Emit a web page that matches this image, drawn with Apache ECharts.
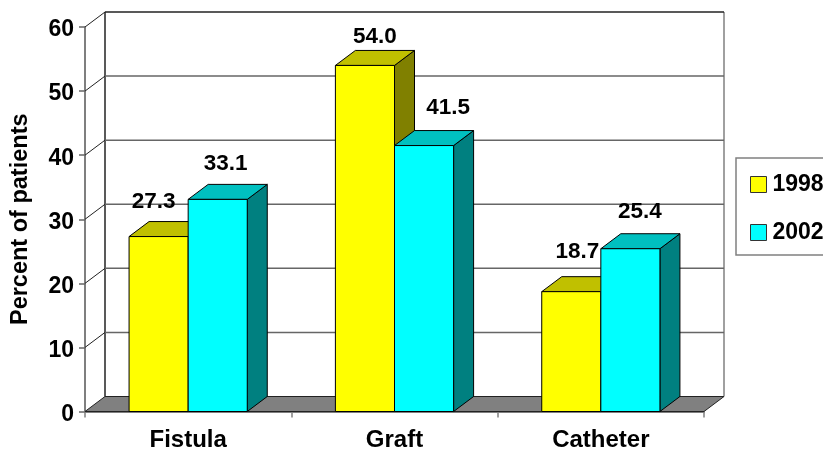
<!DOCTYPE html>
<html>
<head>
<meta charset="utf-8">
<style>html,body{margin:0;padding:0;background:#fff;overflow:hidden}#chart{width:823px;height:449px}</style>
<script src="https://cdn.jsdelivr.net/npm/echarts@6/dist/echarts.min.js"></script>
</head>
<body>
<div id="chart"></div>
<script>
// Vascular access type by year
const categories = ['Fistula', 'Graft', 'Catheter'];
const values1998 = [27.3, 54.0, 18.7];
const values2002 = [33.1, 41.5, 25.4];
const yTicks = [0, 10, 20, 30, 40, 50, 60];

// Pseudo-3D extrusion of the bars and the walls, in pixels
const DX = 20, DY = 15;
const FAMILY = '"Liberation Sans", Arial, sans-serif';
const FONT = 'bold 22.5px ' + FAMILY;
const BAR_RATIO = 59 / 206;

// Hand placement of the value labels relative to the bar's front top centre
const nudge1998 = [[-5, -35], [10, -29], [6, -40]];
const nudge2002 = [[8, -36], [24, -38], [9.5, -37]];

function poly(points, fill, stroke, width) {
  return {
    type: 'polygon',
    shape: { points },
    style: { fill, stroke: stroke || '#000', lineWidth: width === undefined ? 1 : width }
  };
}
function line(x1, y1, x2, y2, stroke, width) {
  return {
    type: 'line',
    shape: { x1, y1, x2, y2 },
    style: { stroke, lineWidth: width || 1, fill: null }
  };
}

// Back wall, side wall and floor, one item per axis tick
function renderWall(params, api) {
  const cs = params.coordSys;
  const tick = api.value(1);
  const y = api.coord([0, tick])[1];
  const left = cs.x, right = cs.x + cs.width;
  const children = [];
  if (tick === 0) {
    const topY = api.coord([0, 60])[1];
    children.push(line(left + DX, topY - DY, left + DX, y - DY, '#222', 1.5));
    children.push(line(right + DX, topY - DY, right + DX, y - DY, '#808080', 1.5));
    children.push(poly([[left, y], [left + DX, y - DY], [right + DX, y - DY], [right, y]], '#808080', '#222', 1));
  } else {
    const back = tick === 60 ? '#222' : '#666';
    children.push(line(left, y, left + DX, y - DY, '#222', 1));
    children.push(line(left + DX, y - DY, right + DX, y - DY, back, 1.5));
  }
  return { type: 'group', children };
}

// One extruded bar with its value label
function barRenderer(side, front, top, dark, nudges) {
  return function (params, api) {
    const i = api.value(0);
    const v = api.value(1);
    const base = api.coord([i, 0]);
    const peak = api.coord([i, v]);
    const w = api.size([1, 0])[0] * BAR_RATIO;
    const x0 = side < 0 ? base[0] - w : base[0];
    const x1 = x0 + w;
    const y0 = base[1], y1 = peak[1];
    const n = nudges[i];
    return {
      type: 'group',
      children: [
        poly([[x1, y0], [x1 + DX, y0 - DY], [x1 + DX, y1 - DY], [x1, y1]], dark),
        poly([[x0, y1], [x0 + DX, y1 - DY], [x1 + DX, y1 - DY], [x1, y1]], top),
        poly([[x0, y0], [x0, y1], [x1, y1], [x1, y0]], front),
        {
          type: 'text',
          style: {
            text: v.toFixed(1),
            x: (x0 + x1) / 2 + n[0],
            y: y1 + n[1],
            align: 'center',
            verticalAlign: 'middle',
            font: FONT,
            fill: '#000'
          }
        }
      ]
    };
  };
}

const chart = echarts.init(document.getElementById('chart'), null, { renderer: 'canvas' });
chart.setOption({
  animation: false,
  backgroundColor: '#fff',
  grid: { left: 85, top: 27, width: 619, height: 384.5, outerBoundsMode: 'none', containLabel: false },
  legend: {
    orient: 'vertical',
    left: 736,
    top: 158,
    padding: [15, 16, 11, 14],
    itemWidth: 16,
    itemHeight: 16,
    itemGap: 25,
    borderColor: '#808080',
    borderWidth: 1.5,
    data: [
      { name: '1998', icon: 'rect', itemStyle: { color: '#ffff00', borderColor: '#333', borderWidth: 1 } },
      { name: '2002', icon: 'rect', itemStyle: { color: '#00ffff', borderColor: '#333', borderWidth: 1 } }
    ],
    textStyle: { fontFamily: FAMILY, fontWeight: 'bold', fontSize: 23, color: '#000', lineHeight: 16, height: 16, padding: [0, 0, 0, 1] }
  },
  xAxis: {
    type: 'category',
    data: categories,
    axisLine: { lineStyle: { color: '#555', width: 1.5 } },
    axisTick: { show: true, length: 6, lineStyle: { color: '#808080', width: 1.5 } },
    axisLabel: { margin: 17, color: '#000', fontFamily: FAMILY, fontWeight: 'bold', fontSize: 24 }
  },
  yAxis: {
    type: 'value',
    min: yTicks[0],
    max: yTicks[yTicks.length - 1],
    interval: 10,
    name: 'Percent of patients',
    nameLocation: 'middle',
    nameRotate: 90,
    nameGap: 52,
    nameTextStyle: { color: '#000', fontFamily: FAMILY, fontWeight: 'bold', fontSize: 23.5 },
    axisLine: { show: true, lineStyle: { color: '#555', width: 1.5 } },
    axisTick: { show: true, length: 6, lineStyle: { color: '#666', width: 1.5 } },
    axisLabel: { margin: 11, verticalAlign: 'top', lineHeight: 6, color: '#000', fontFamily: FAMILY, fontWeight: 'bold', fontSize: 23 },
    splitLine: { show: false }
  },
  series: [
    {
      name: 'walls',
      type: 'custom',
      z: 1,
      silent: true,
      encode: { x: 0, y: 1 },
      renderItem: renderWall,
      data: yTicks.map(t => [0, t])
    },
    {
      name: '1998',
      type: 'custom',
      z: 3,
      itemStyle: { color: '#ffff00' },
      encode: { x: 0, y: 1 },
      renderItem: barRenderer(-1, '#ffff00', '#c0c000', '#808000', nudge1998),
      data: values1998.map((v, i) => [i, v])
    },
    {
      name: '2002',
      type: 'custom',
      z: 4,
      itemStyle: { color: '#00ffff' },
      encode: { x: 0, y: 1 },
      renderItem: barRenderer(1, '#00ffff', '#00c0c0', '#008080', nudge2002),
      data: values2002.map((v, i) => [i, v])
    }
  ]
});
</script>
</body>
</html>
